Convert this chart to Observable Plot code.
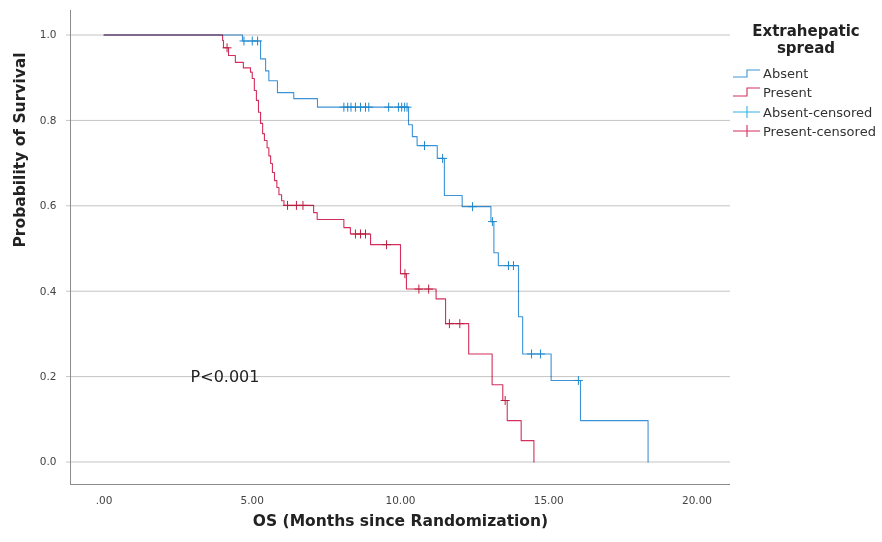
<!DOCTYPE html>
<html><head><meta charset="utf-8">
<script src="https://cdn.jsdelivr.net/npm/d3@7"></script>
<script src="https://cdn.jsdelivr.net/npm/@observablehq/plot@0.6"></script>
<style>
body{margin:0;background:#fff;}
#wrap{position:relative;width:882px;height:542px;font-family:"DejaVu Sans",sans-serif;}
#legend{position:absolute;left:730px;top:0;width:152px;height:160px;color:#222;}
#legend .title{position:absolute;left:0;top:23px;width:152px;text-align:center;font-weight:bold;font-size:15px;line-height:17px;}
#legend .row{position:absolute;left:3px;height:16px;display:flex;align-items:center;font-size:13px;color:#333;white-space:nowrap;}
#legend .row svg{display:block;margin-right:2px;}
</style></head><body>
<div id="wrap"></div>
<script>
// ---- data ----
const groups = ["Absent", "Present"];
const legendTitle = ["Extrahepatic", "spread"];
const legendLabels = ["Absent", "Present", "Absent-censored", "Present-censored"];

const absentT = [0, 4.67, 5.28, 5.45, 5.56, 5.85, 6.4, 7.2, 10.27, 10.4, 10.56, 11.24, 11.48, 12.08, 13.05, 13.15, 13.3, 13.98, 14.12, 15.08, 16.07, 18.35];
const absentS = [1.0, 0.986, 0.944, 0.916, 0.893, 0.865, 0.851, 0.831, 0.79, 0.762, 0.741, 0.711, 0.624, 0.598, 0.563, 0.49, 0.46, 0.34, 0.253, 0.191, 0.097, 0.0];

const presentT = [0, 4.0, 4.03, 4.2, 4.43, 4.7, 4.94, 5.0, 5.07, 5.14, 5.21, 5.28, 5.35, 5.41, 5.5, 5.56, 5.62, 5.68, 5.75, 5.83, 5.9, 5.99, 6.07, 7.07, 7.19, 8.09, 8.31, 8.99, 10.0, 10.2, 11.2, 11.52, 12.3, 13.09, 13.45, 13.6, 14.07, 14.5];
const presentS = [1.0, 0.987, 0.970, 0.952, 0.936, 0.923, 0.913, 0.898, 0.870, 0.847, 0.819, 0.793, 0.769, 0.753, 0.736, 0.717, 0.699, 0.678, 0.659, 0.643, 0.626, 0.612, 0.601, 0.584, 0.568, 0.549, 0.534, 0.509, 0.441, 0.405, 0.382, 0.324, 0.253, 0.181, 0.144, 0.097, 0.050, 0.0];

const absentCensT = [4.72, 5.0, 5.18, 8.09, 8.22, 8.33, 8.48, 8.65, 8.82, 8.93, 9.6, 9.93, 10.04, 10.14, 10.22, 10.81, 11.42, 12.43, 13.1, 13.64, 13.81, 14.42, 14.72, 16.0];
const absentCensS = [0.986, 0.986, 0.986, 0.831, 0.831, 0.831, 0.831, 0.831, 0.831, 0.831, 0.831, 0.831, 0.831, 0.831, 0.831, 0.741, 0.711, 0.598, 0.563, 0.46, 0.46, 0.253, 0.253, 0.191];

const presentCensT = [4.15, 6.19, 6.49, 6.71, 8.48, 8.65, 8.82, 9.53, 10.15, 10.62, 10.95, 11.65, 12.0, 13.53];
const presentCensS = [0.970, 0.601, 0.601, 0.601, 0.534, 0.534, 0.534, 0.509, 0.441, 0.405, 0.405, 0.324, 0.324, 0.144];

const xTicks = [0, 5, 10, 15, 20];
const yTicks = [0, 0.2, 0.4, 0.6, 0.8, 1.0];
const xLabel = "OS (Months since Randomization)";
const yLabel = "Probability of Survival";
const pText = "P<0.001";
const pAt = [2.92, 0.2];

// ---- styles ----
const colBlue = "#3d93d8", colRed = "#d42f5c";
const colBlueCens = "#1f88cc", colRedCens = "#b8213f";
const xDomain = [-1.13, 21.13];
const yDomain = [-0.0527, 1.0574];

const absent = absentT.map((t, i) => ({t, s: absentS[i]}));
const present = presentT.map((t, i) => ({t, s: presentS[i]}));
const absentCens = absentCensT.map((t, i) => ({t, s: absentCensS[i]}));
const presentCens = presentCensT.map((t, i) => ({t, s: presentCensS[i]}));

const chart = Plot.plot({
  width: 882, height: 542,
  marginLeft: 70, marginRight: 152, marginTop: 10, marginBottom: 58,
  style: {fontFamily: "DejaVu Sans, sans-serif", fontSize: "10.5px", color: "#444", background: "white"},
  x: {domain: xDomain},
  y: {domain: yDomain},
  marks: [
    Plot.ruleY(yTicks, {stroke: "#c4c4c4", strokeWidth: 1}),
    Plot.ruleX([xDomain[0]], {stroke: "#8c8c8c"}),
    Plot.ruleY([yDomain[0]], {stroke: "#8c8c8c"}),
    Plot.axisX(xTicks, {tickSize: 0, tickPadding: 12, tickFormat: d => d === 0 ? ".00" : d.toFixed(2), label: null, fill: "#444"}),
    Plot.axisY(yTicks, {tickSize: 4, tickPadding: 10, tickFormat: d3.format(".1f"), label: null, stroke: "#c4c4c4", fill: "#444"}),
    Plot.line(absent, {x: "t", y: "s", curve: "step-after", stroke: colBlue, strokeWidth: 1.1, mixBlendMode: "multiply"}),
    Plot.line(present, {x: "t", y: "s", curve: "step-after", stroke: colRed, strokeWidth: 1.1, mixBlendMode: "multiply"}),
    Plot.dot(absentCens, {x: "t", y: "s", symbol: "plus", r: 3, stroke: colBlueCens, strokeWidth: 1}),
    Plot.dot(presentCens, {x: "t", y: "s", symbol: "plus", r: 3, stroke: colRedCens, strokeWidth: 1}),
    Plot.text([pText], {x: pAt[0], y: pAt[1], text: d => d, textAnchor: "start", fontSize: 16, fill: "#222"}),
    Plot.text([xLabel], {frameAnchor: "bottom", dy: 41, text: d => d, fontSize: 15.5, fontWeight: "bold", fill: "#222"}),
    Plot.text([yLabel], {frameAnchor: "left", dx: -50, rotate: -90, text: d => d, fontSize: 15.5, fontWeight: "bold", fill: "#222"})
  ]
});

const wrap = document.getElementById("wrap");
wrap.appendChild(chart);

// ---- legend (HTML, to the right of the plot) ----
const legend = document.createElement("div");
legend.id = "legend";
legend.innerHTML = `<div class="title">${legendTitle.join("<br>")}</div>`;
const rowCenters = [73, 92, 112, 131];
const icons = [
  `<path d="M0,12H14V5H27" fill="none" stroke="${colBlue}" stroke-width="1.1"/>`,
  `<path d="M0,12H14V4H27" fill="none" stroke="${colRed}" stroke-width="1.1"/>`,
  `<path d="M0,8H27M14,2V14" fill="none" stroke="#2fb3e3" stroke-width="1.1"/>`,
  `<path d="M0,8H27M14,2V14" fill="none" stroke="${colRed}" stroke-width="1.1"/>`
];
legendLabels.forEach((lab, i) => {
  const row = document.createElement("div");
  row.className = "row";
  row.style.top = (rowCenters[i] - 8) + "px";
  row.innerHTML = `<svg width="28" height="16">${icons[i]}</svg><span>${lab}</span>`;
  legend.appendChild(row);
});
wrap.appendChild(legend);
</script>
</body></html>
